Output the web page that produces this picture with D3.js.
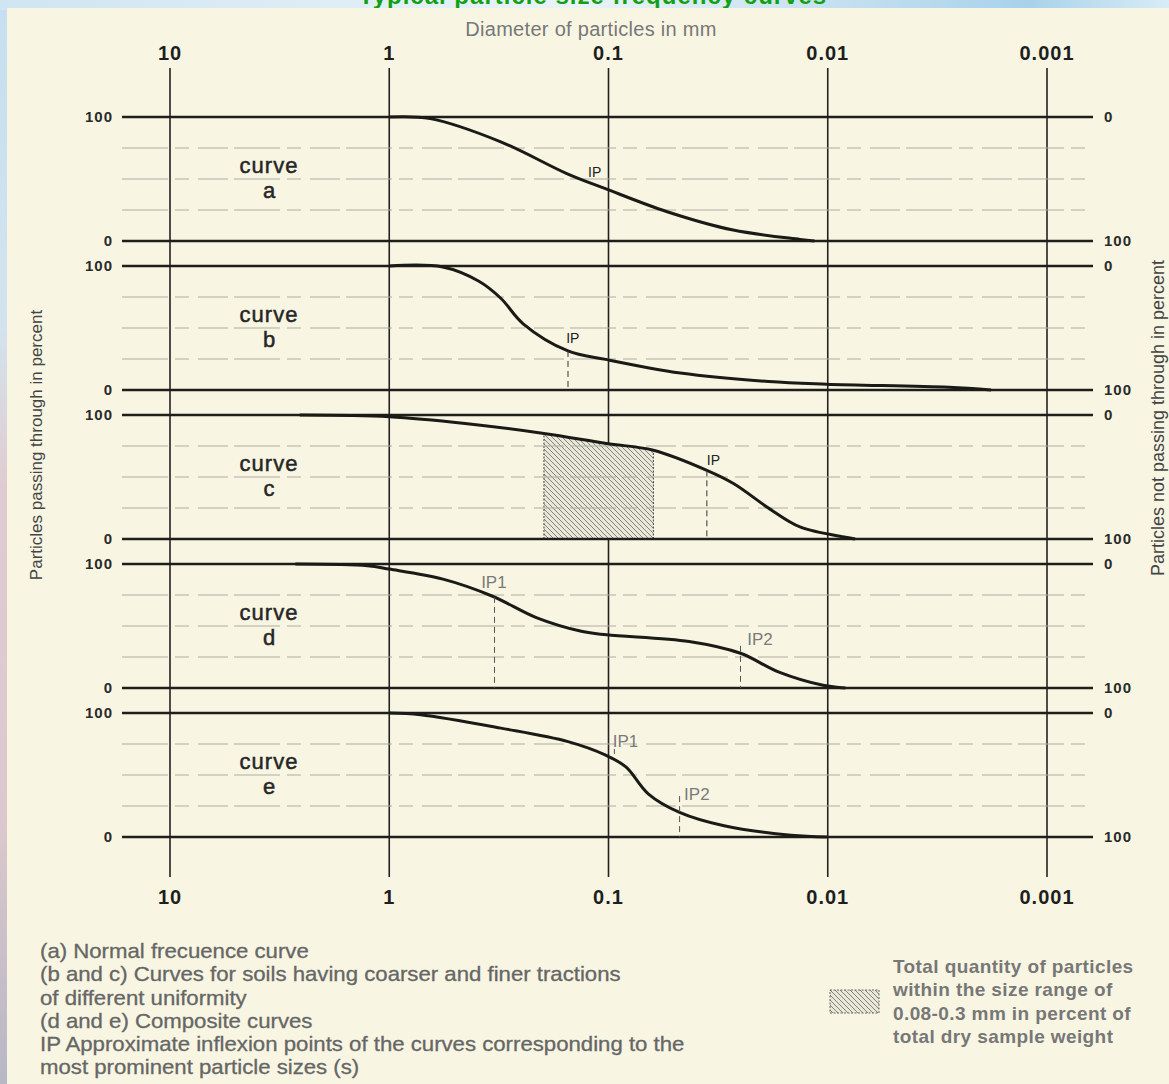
<!DOCTYPE html>
<html>
<head>
<meta charset="utf-8">
<title>Typical particle size frequency curves</title>
<script src="https://cdn.jsdelivr.net/npm/d3@7"></script>
<style>
  body { margin: 0; }
  svg { display: block; font-family: "Liberation Sans", Arial, sans-serif; }
</style>
</head>
<body>
<script>

// diameters (mm) of the vertical guide lines and their labels
var sizeTicks = [10, 1, 0.1, 0.01, 0.001];
var sizeLabels = ["10", "1", "0.1", "0.01", "0.001"];
var panelNames = ["a", "b", "c", "d", "e"];
var gridPct = [25, 50, 75];

// curves: [diameter mm, percent passing]
var curveA = [[1, 100], [0.65, 98.7], [0.31, 80], [0.155, 54.4], [0.104, 42.4], [0.054, 23.6], [0.027, 8.8], [0.0134, 1.3], [0.0115, 0]];
var curveB = [[1, 100], [0.57, 99.2], [0.39, 87.7], [0.31, 74], [0.245, 53.4], [0.153, 31.5], [0.103, 24.7], [0.047, 13.7], [0.0186, 6.8], [0.0101, 4.7], [0.0028, 2.2], [0.0018, 0]];
var curveC = [[2.56, 100], [1, 98.6], [0.451, 93.2], [0.197, 85.1], [0.102, 77], [0.0624, 71.6], [0.0356, 55.4], [0.0268, 44.6], [0.0184, 24.3], [0.0133, 9.5], [0.0083, 1.4], [0.0075, 0]];
var curveD = [[2.68, 100], [1.26, 98.6], [1, 95.9], [0.569, 87.8], [0.34, 74.2], [0.212, 56.5], [0.133, 45.7], [0.102, 42.9], [0.0429, 37.5], [0.025, 28], [0.0168, 13], [0.0105, 2.2], [0.0083, 0]];
var curveE = [[1, 100], [0.72, 98.6], [0.31, 87.8], [0.153, 76.9], [0.103, 66], [0.0833, 56.5], [0.0659, 34.8], [0.0474, 19.8], [0.0297, 9], [0.0147, 1.4], [0.0101, 0]];
var curves = [curveA, curveB, curveC, curveD, curveE];

// inflexion points: panel, label, label anchor [d, pct], mark [d, from pct, to pct]
var inflexions = [
  { panel: 0, text: "IP",  at: [0.124, 51.6],  mark: null },
  { panel: 1, text: "IP",  at: [0.156, 38],    mark: [0.153, 31.5, 0] },
  { panel: 2, text: "IP",  at: [0.0356, 59.7], mark: [0.0356, 55.4, 0] },
  { panel: 3, text: "IP1", at: [0.381, 80.8],  mark: [0.331, 73.5, 0] },
  { panel: 3, text: "IP2", at: [0.0233, 34.4], mark: [0.025, 34, 0] },
  { panel: 4, text: "IP1", at: [0.0957, 72.8], mark: [0.094, 71, 67] },
  { panel: 4, text: "IP2", at: [0.0452, 29.6], mark: [0.0474, 33, 0] }
];
// shaded band under curve c: diameters and curve height at each edge
var hatchRange = [0.197, 0.0624];
var hatchTop = [85.1, 71.6];

var notesLeft = [
  "(a) Normal frecuence curve",
  "(b and c) Curves for soils having coarser and finer tractions",
  "of different uniformity",
  "(d and e) Composite curves",
  "IP Approximate inflexion points of the curves corresponding to the",
  "most prominent particle sizes (s)"
];
var notesRight = [
  "Total quantity of particles",
  "within the size range of",
  "0.08-0.3 mm in percent of",
  "total dry sample weight"
];

var width = 1169, height = 1084;
var lineLeft = 122, lineRight = 1093;
var panelTop0 = 117, panelStep = 149, panelH = 124;

var svg = d3.select("body").append("svg")
  .attr("width", width)
  .attr("height", height);

var defs = svg.append("defs");

var side = defs.append("linearGradient").attr("id", "side")
  .attr("x1", 0).attr("y1", 0).attr("x2", 0).attr("y2", 1);
side.append("stop").attr("offset", "0%").attr("stop-color", "#c6dff0");
side.append("stop").attr("offset", "30%").attr("stop-color", "#d3e3ee");
side.append("stop").attr("offset", "45%").attr("stop-color", "#e0ccd0");
side.append("stop").attr("offset", "75%").attr("stop-color", "#dcc9cd");
side.append("stop").attr("offset", "100%").attr("stop-color", "#b7b7c5");

var topG = defs.append("linearGradient").attr("id", "topband");
topG.append("stop").attr("offset", "0%").attr("stop-color", "#cfe5f2");
topG.append("stop").attr("offset", "50%").attr("stop-color", "#e9f3f8");
topG.append("stop").attr("offset", "88%").attr("stop-color", "#a8d2ea");
topG.append("stop").attr("offset", "100%").attr("stop-color", "#d8ecf6");

var hatch = defs.append("pattern").attr("id", "hatch")
  .attr("patternUnits", "userSpaceOnUse")
  .attr("width", 5).attr("height", 5);
hatch.append("rect").attr("width", 5).attr("height", 5).attr("fill", "#e9e7d8");
hatch.append("path")
  .attr("d", "M-1,-1 L6,6 M-1,4 L1,6 M4,-1 L6,1")
  .attr("stroke", "#6a6a62").attr("stroke-width", 0.8);

svg.append("rect").attr("width", width).attr("height", height).attr("fill", "url(#side)");
svg.append("rect").attr("width", width).attr("height", 10).attr("fill", "url(#topband)");

svg.append("text")
  .attr("x", 593).attr("y", 4)
  .attr("text-anchor", "middle")
  .attr("font-size", 24).attr("font-weight", "bold")
  .attr("letter-spacing", 1)
  .attr("fill", "#12a012")
  .text("Typical particle size frequency curves");

svg.append("rect").attr("x", 7).attr("y", 8).attr("width", width - 7).attr("height", height - 8)
  .attr("fill", "#f8f6e3");

var x = d3.scaleLog().domain([10, 0.001]).range([170, 1047]);

svg.append("text")
  .attr("x", 591).attr("y", 36)
  .attr("text-anchor", "middle")
  .attr("font-size", 20).attr("letter-spacing", 0.3)
  .attr("fill", "#777")
  .text("Diameter of particles in mm");

// vertical guide lines
svg.append("g").selectAll("line")
  .data(sizeTicks)
  .enter().append("line")
  .attr("x1", function(d) { return x(d); })
  .attr("x2", function(d) { return x(d); })
  .attr("y1", 68).attr("y2", 877)
  .attr("stroke", "#222").attr("stroke-width", 1.6);

[60, 904].forEach(function(yy) {
  svg.append("g").selectAll("text")
    .data(sizeTicks)
    .enter().append("text")
    .attr("x", function(d) { return x(d); })
    .attr("y", yy)
    .attr("text-anchor", "middle")
    .attr("font-size", 20).attr("font-weight", "bold")
    .attr("letter-spacing", 1)
    .attr("fill", "#1e1e1e")
    .text(function(d, i) { return sizeLabels[i]; });
});

var line = d3.line()
  .x(function(d) { return x(d[0]); })
  .curve(d3.curveCatmullRom.alpha(0.5));

panelNames.forEach(function(name, i) {
  var top = panelTop0 + i * panelStep;
  var y = d3.scaleLinear().domain([0, 100]).range([top + panelH, top]);
  var g = svg.append("g");

  if (i === 2) {
    defs.append("clipPath").attr("id", "hatchClip")
      .append("rect")
      .attr("x", x(hatchRange[0])).attr("width", x(hatchRange[1]) - x(hatchRange[0]))
      .attr("y", top).attr("height", panelH);
    var area = d3.area()
      .x(function(d) { return x(d[0]); })
      .y0(y(0))
      .y1(function(d) { return y(d[1]); })
      .curve(d3.curveCatmullRom.alpha(0.5));
    g.append("path")
      .attr("d", area(curveC))
      .attr("clip-path", "url(#hatchClip)")
      .attr("fill", "url(#hatch)");
    hatchRange.forEach(function(h, k) {
      g.append("line")
        .attr("x1", x(h)).attr("x2", x(h))
        .attr("y1", y(0)).attr("y2", y(hatchTop[k]))
        .attr("stroke", "#444").attr("stroke-width", 1)
        .attr("stroke-dasharray", "2,1.5");
    });
  }

  g.selectAll(".grid")
    .data(gridPct)
    .enter().append("line")
    .attr("x1", lineLeft).attr("x2", lineRight)
    .attr("y1", function(d) { return y(d); })
    .attr("y2", function(d) { return y(d); })
    .attr("stroke", "#aeac9e").attr("stroke-width", 1)
    .attr("stroke-dasharray", "46,7,14,9,30,6");

  g.selectAll(".hl")
    .data([0, 100])
    .enter().append("line")
    .attr("x1", lineLeft).attr("x2", lineRight)
    .attr("y1", function(d) { return y(d); })
    .attr("y2", function(d) { return y(d); })
    .attr("stroke", "#1e1e1a").attr("stroke-width", 2.6);

  g.selectAll(".lt")
    .data([0, 100])
    .enter().append("text")
    .attr("x", 113)
    .attr("y", function(d) { return y(d); })
    .attr("dy", "0.36em")
    .attr("text-anchor", "end")
    .attr("font-size", 15).attr("font-weight", "bold")
    .attr("letter-spacing", 1)
    .attr("fill", "#2a2a2a")
    .text(function(d) { return d; });

  g.selectAll(".rt")
    .data([0, 100])
    .enter().append("text")
    .attr("x", 1104)
    .attr("y", function(d) { return y(d); })
    .attr("dy", "0.36em")
    .attr("font-size", 15).attr("font-weight", "bold")
    .attr("letter-spacing", 1)
    .attr("fill", "#2a2a2a")
    .text(function(d) { return 100 - d; });

  g.append("text")
    .attr("x", 269).attr("y", top + 56)
    .attr("text-anchor", "middle")
    .attr("font-size", 22).attr("letter-spacing", 1)
    .attr("fill", "#262626").attr("stroke", "#262626").attr("stroke-width", 0.5)
    .text("curve");
  g.append("text")
    .attr("x", 269).attr("y", top + 81)
    .attr("text-anchor", "middle")
    .attr("font-size", 22)
    .attr("fill", "#262626").attr("stroke", "#262626").attr("stroke-width", 0.5)
    .text(name);

  line.y(function(d) { return y(d[1]); });
  g.append("path")
    .attr("d", line(curves[i]))
    .attr("fill", "none")
    .attr("stroke", "#1a1a16").attr("stroke-width", 3);

  inflexions.filter(function(p) { return p.panel === i; }).forEach(function(p) {
    var grey = p.text.length > 2;
    if (p.mark) {
      g.append("line")
        .attr("x1", x(p.mark[0])).attr("x2", x(p.mark[0]))
        .attr("y1", y(p.mark[1])).attr("y2", y(p.mark[2]))
        .attr("stroke", grey ? "#555" : "#333").attr("stroke-width", 1)
        .attr("stroke-dasharray", "6,4");
    }
    g.append("text")
      .attr("x", x(p.at[0])).attr("y", y(p.at[1]))
      .attr("font-size", grey ? 17 : 14)
      .attr("fill", grey ? "#7a7a7a" : "#222")
      .text(p.text);
  });
});

svg.append("text")
  .attr("transform", "translate(42,445) rotate(-90)")
  .attr("text-anchor", "middle")
  .attr("font-size", 17).attr("fill", "#444")
  .text("Particles passing through in percent");

svg.append("text")
  .attr("transform", "translate(1164,418) rotate(-90)")
  .attr("text-anchor", "middle")
  .attr("font-size", 18).attr("fill", "#444")
  .text("Particles not passing through in percent");

svg.append("g")
  .attr("transform", "translate(40,0) scale(1.11,1)")
  .selectAll("text")
  .data(notesLeft)
  .enter().append("text")
  .attr("x", 0)
  .attr("y", function(d, i) { return 958 + i * 23.3; })
  .attr("font-size", 20).attr("fill", "#666")
  .attr("stroke", "#666").attr("stroke-width", 0.3)
  .text(function(d) { return d; });

svg.append("g").selectAll("text")
  .data(notesRight)
  .enter().append("text")
  .attr("x", 893)
  .attr("y", function(d, i) { return 973 + i * 23.3; })
  .attr("font-size", 19).attr("font-weight", "bold").attr("letter-spacing", 0.4)
  .attr("fill", "#777")
  .text(function(d) { return d; });

svg.append("rect")
  .attr("x", 830).attr("y", 990).attr("width", 49).attr("height", 23)
  .attr("fill", "url(#hatch)")
  .attr("stroke", "#666").attr("stroke-width", 1).attr("stroke-dasharray", "2,1.5");

</script>
</body>
</html>
